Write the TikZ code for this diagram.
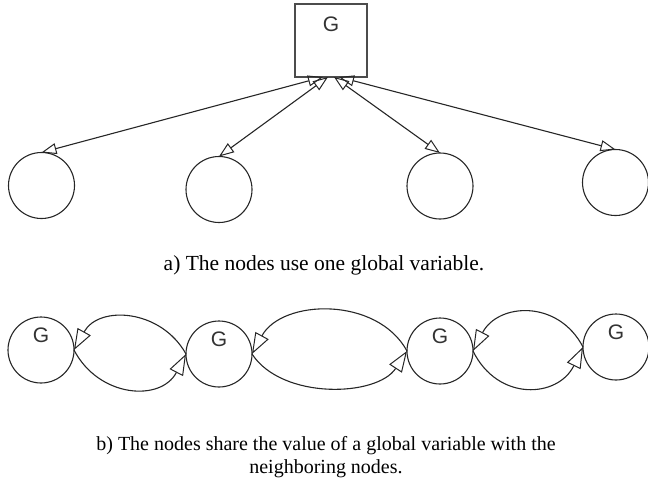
\documentclass[tikz,border=0pt]{standalone}
\usepackage{fontspec}
\setmainfont{Liberation Serif}
\newfontfamily\labelfont{Liberation Sans}
\usetikzlibrary{arrows.meta}

\tikzset{
  link/.style={line width=1.1pt, draw=black!85},
  tipA/.tip={Triangle[open, length=15pt, width=11pt, line width=1pt]},
  tipB/.tip={Triangle[open, length=21pt, width=15pt, line width=1pt]},
  headBoth/.style={tipA-tipA},
  headB/.style={-tipB},
  peer/.style={circle, draw=black!85, line width=1.1pt, minimum size=66pt, inner sep=0pt, outer sep=0pt},
  varbox/.style={rectangle, draw=black!70, line width=1.4pt, minimum width=72pt, minimum height=73pt, inner sep=0pt, outer sep=0pt},
  gtag/.style={font=\labelfont\fontsize{21}{21}\selectfont, text=black!80, inner sep=0pt},
  caption/.style={align=center, inner sep=0pt}
}

\begin{document}
\begin{tikzpicture}[x=1pt, y=-1pt]
  \useasboundingbox (0,0) rectangle (648,490);

  % (a) one shared global variable
  \node[varbox] (G) at (331,40.5) {};
  \node[gtag, anchor=north] (Gt) at ([yshift=-13pt]G.north) {G};

  \node[peer] (a1) at (41.5,185.5) {};
  \node[peer] (a2) at (219,189.5) {};
  \node[peer] (a3) at (440,186) {};
  \node[peer] (a4) at (615.5,182.5) {};

  \draw[link, headBoth] ([xshift=-8pt]G.south) -- (a1.north);
  \draw[link, headBoth] ([xshift=-3pt]G.south) -- (a2.north);
  \draw[link, headBoth] ([xshift=3pt]G.south) -- (a3.north);
  \draw[link, headBoth] ([xshift=8pt]G.south) -- (a4.north);

  \node[caption, font=\fontsize{21.5}{24}\selectfont] (capA) at (324,265) {a) The nodes use one global variable.};

  % (b) neighbours exchange their copies
  \node[peer] (b1) at (41,350) {};
  \node[peer] (b2) at (219,354) {};
  \node[peer] (b3) at (440,351) {};
  \node[peer] (b4) at (616,347) {};
  \foreach \n in {b1,b2,b3,b4}
    \node[gtag, anchor=north] at ([yshift=-11pt]\n.north) {G};

  \draw[link, headB] (b2.west) .. controls +(-25,-45) and +(25,-45) .. (b1.east);
  \draw[link, headB] (b1.east) .. controls +(25,48) and +(-25,48) .. (b2.west);
  \draw[link, headB] (b3.west) .. controls +(-30,-55) and +(30,-55) .. (b2.east);
  \draw[link, headB] (b2.east) .. controls +(30,46) and +(-30,46) .. (b3.west);
  \draw[link, headB] (b4.west) .. controls +(-25,-48) and +(25,-48) .. (b3.east);
  \draw[link, headB] (b3.east) .. controls +(25,51) and +(-25,51) .. (b4.west);

  \node[caption, font=\fontsize{20}{23}\selectfont] (capB) at (326,457) {b) The nodes share the value of a global variable with the\\neighboring nodes.};
\end{tikzpicture}
\end{document}
